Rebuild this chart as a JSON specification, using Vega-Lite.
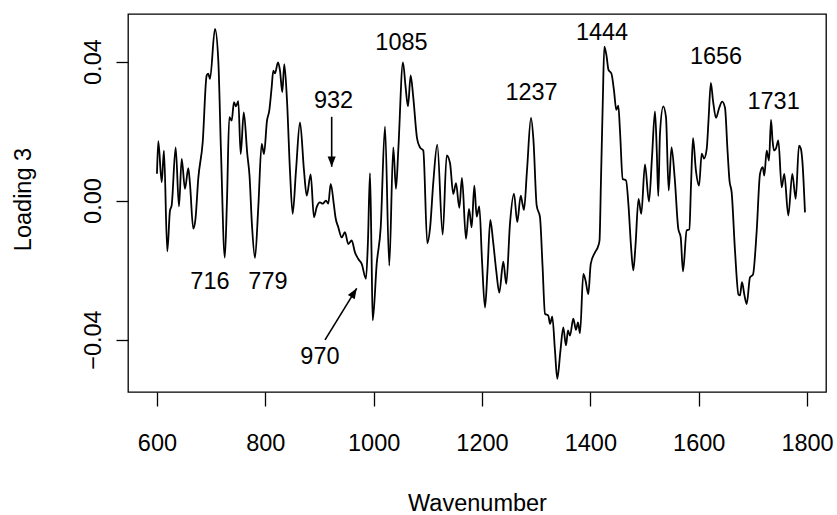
{
  "$schema": "https://vega.github.io/schema/vega-lite/v6.json",
  "autosize": {"type": "none"},
  "width": 698,
  "height": 378,
  "padding": {"left": 128, "top": 14, "right": 11, "bottom": 123},
  "background": "white",
  "config": {
    "font": "Liberation Sans",
    "view": {"stroke": "black", "strokeWidth": 1.3}
  },
  "datasets": {
    "spec": [
      {"w":600,"v":0.0077},{"w":602.4,"v":0.0171},{"w":608.7,"v":0.0053},{"w":612.9,"v":0.0144},{"w":619,"v":-0.0146},{"w":624,"v":-0.0029},{"w":627.1,"v":-0.0014},{"w":634.5,"v":0.0153},{"w":640.6,"v":-0.0017},{"w":645.6,"v":0.012},{"w":651.7,"v":0.0034},{"w":657.8,"v":0.0093},{"w":660.9,"v":0.0048},{"w":667,"v":-0.0081},{"w":671.1,"v":-0.0052},{"w":676.2,"v":0.0063},{"w":684.4,"v":0.0168},{"w":691.7,"v":0.036},{"w":694.7,"v":0.0365},{"w":697.8,"v":0.035},{"w":707.1,"v":0.0494},{"w":713.2,"v":0.0403},{"w":718.1,"v":0.0144},{"w":725.2,"v":-0.0164},{"w":729.2,"v":0.0},{"w":733.5,"v":0.024},{"w":737.9,"v":0.023},{"w":742.1,"v":0.0283},{"w":745.8,"v":0.0271},{"w":750.1,"v":0.0286},{"w":754.5,"v":0.0134},{"w":760.2,"v":0.0254},{"w":766.7,"v":0.0134},{"w":770.8,"v":0.0072},{"w":775.4,"v":-0.0072},{"w":780.9,"v":-0.0165},{"w":787,"v":-0.0019},{"w":793.3,"v":0.0163},{"w":797.5,"v":0.0134},{"w":803.1,"v":0.023},{"w":807.3,"v":0.0259},{"w":811.7,"v":0.0326},{"w":814.7,"v":0.0374},{"w":817.8,"v":0.0366},{"w":823.4,"v":0.0398},{"w":827.1,"v":0.0374},{"w":831.3,"v":0.0312},{"w":835,"v":0.0393},{"w":840,"v":0.0288},{"w":845.5,"v":0.0086},{"w":850.5,"v":-0.0038},{"w":856.6,"v":0.0086},{"w":864,"v":0.0225},{"w":871.4,"v":0.0086},{"w":876.4,"v":0.0014},{"w":883.7,"v":0.0075},{"w":889.8,"v":-0.0048},{"w":894.8,"v":-0.0019},{"w":900.9,"v":-0.0005},{"w":905.9,"v":-0.0009},{"w":912,"v":0.0},{"w":916.2,"v":-0.0009},{"w":920.7,"v":0.0048},{"w":926.7,"v":-0.0014},{"w":929.5,"v":-0.0048},{"w":934.7,"v":-0.0077},{"w":941,"v":-0.0106},{"w":947,"v":-0.0091},{"w":953.1,"v":-0.0125},{"w":959.4,"v":-0.0115},{"w":965.5,"v":-0.0149},{"w":971.6,"v":-0.0168},{"w":977.9,"v":-0.0182},{"w":985.8,"v":-0.0225},{"w":989.5,"v":-0.0115},{"w":993.2,"v":0.0079},{"w":996,"v":-0.0144},{"w":998.2,"v":-0.0345},{"w":1005.6,"v":-0.0182},{"w":1013,"v":-0.0077},{"w":1020.9,"v":0.0213},{"w":1028.8,"v":-0.0187},{"w":1036.2,"v":0.0153},{"w":1041.2,"v":0.0034},{"w":1045.4,"v":0.0144},{"w":1054.1,"v":0.0398},{"w":1058.7,"v":0.0331},{"w":1063.3,"v":0.0271},{"w":1068.3,"v":0.036},{"w":1073.1,"v":0.0297},{"w":1080,"v":0.018},{"w":1085.5,"v":0.0153},{"w":1091.6,"v":0.0144},{"w":1099,"v":-0.0123},{"w":1104,"v":-0.0081},{"w":1110.1,"v":0.0053},{"w":1117.4,"v":0.0161},{"w":1127.4,"v":-0.0098},{"w":1134.8,"v":0.013},{"w":1140.9,"v":0.0108},{"w":1147,"v":0.0019},{"w":1152,"v":0.005},{"w":1158.1,"v":-0.0021},{"w":1163,"v":0.0065},{"w":1170.4,"v":-0.011},{"w":1176,"v":-0.0024},{"w":1180.9,"v":-0.0077},{"w":1185.8,"v":0.0043},{"w":1190.2,"v":-0.0046},{"w":1195,"v":-0.0017},{"w":1200,"v":-0.0173},{"w":1205.5,"v":-0.0308},{"w":1210.1,"v":-0.0201},{"w":1215.3,"v":-0.0056},{"w":1220.3,"v":-0.0115},{"w":1226.4,"v":-0.0204},{"w":1231.9,"v":-0.0265},{"w":1239.3,"v":-0.0176},{"w":1244.8,"v":-0.024},{"w":1251.6,"v":-0.0067},{"w":1259,"v":0.002},{"w":1265.1,"v":-0.0062},{"w":1271.4,"v":0.0014},{"w":1274.7,"v":-0.0009},{"w":1277.5,"v":-0.0027},{"w":1283,"v":0.0086},{"w":1290.4,"v":0.0238},{"w":1295,"v":0.0173},{"w":1300.9,"v":-0.0014},{"w":1307,"v":-0.0048},{"w":1311.7,"v":-0.0187},{"w":1316.3,"v":-0.0326},{"w":1322.4,"v":-0.0331},{"w":1325.5,"v":-0.0355},{"w":1329.7,"v":-0.0334},{"w":1334.7,"v":-0.0432},{"w":1338.9,"v":-0.0513},{"w":1344.8,"v":-0.0432},{"w":1350,"v":-0.0365},{"w":1355,"v":-0.0417},{"w":1358.7,"v":-0.0374},{"w":1362.4,"v":-0.0389},{"w":1368.5,"v":-0.034},{"w":1373.5,"v":-0.0372},{"w":1377.2,"v":-0.0351},{"w":1380.9,"v":-0.0382},{"w":1387,"v":-0.0211},{"w":1391.1,"v":-0.023},{"w":1396.2,"v":-0.0269},{"w":1400.7,"v":-0.0182},{"w":1408.6,"v":-0.0149},{"w":1414.7,"v":-0.013},{"w":1416.9,"v":-0.0115},{"w":1419.6,"v":0.0058},{"w":1423,"v":0.0288},{"w":1425.8,"v":0.0443},{"w":1429.8,"v":0.0417},{"w":1433.5,"v":0.0376},{"w":1439,"v":0.0365},{"w":1443.6,"v":0.0317},{"w":1447.9,"v":0.0261},{"w":1451.6,"v":0.0273},{"w":1454.7,"v":0.0201},{"w":1459.7,"v":0.0062},{"w":1465.8,"v":0.0058},{"w":1470.4,"v":-0.0014},{"w":1475,"v":-0.013},{"w":1479.3,"v":-0.0201},{"w":1483.3,"v":-0.013},{"w":1488.9,"v":0.0005},{"w":1494,"v":-0.0038},{"w":1500.8,"v":0.0104},{"w":1508.2,"v":-0.0003},{"w":1513.8,"v":0.0125},{"w":1519.3,"v":0.0257},{"w":1522.6,"v":0.0144},{"w":1525.4,"v":0.0013},{"w":1528.5,"v":0.0192},{"w":1534.6,"v":0.0271},{"w":1539.6,"v":0.024},{"w":1544.6,"v":0.0029},{"w":1549.8,"v":0.0153},{"w":1555.7,"v":0.0065},{"w":1562.3,"v":-0.0081},{"w":1566.8,"v":-0.0106},{"w":1571,"v":-0.0204},{"w":1577.8,"v":-0.0086},{"w":1582.7,"v":-0.0083},{"w":1585.8,"v":0.0043},{"w":1589.5,"v":0.018},{"w":1594.7,"v":0.0089},{"w":1600.6,"v":0.0043},{"w":1605.6,"v":0.0135},{"w":1609.8,"v":0.0121},{"w":1614.8,"v":0.0149},{"w":1618.1,"v":0.023},{"w":1622.4,"v":0.0339},{"w":1626.4,"v":0.0288},{"w":1632,"v":0.0238},{"w":1637.5,"v":0.0265},{"w":1643.4,"v":0.0285},{"w":1648.5,"v":0.0268},{"w":1653.2,"v":0.0144},{"w":1656.8,"v":0.0058},{"w":1660.9,"v":0.0023},{"w":1667,"v":-0.0144},{"w":1673.5,"v":-0.0271},{"w":1676.2,"v":-0.0273},{"w":1679.9,"v":-0.0235},{"w":1684.5,"v":-0.0273},{"w":1688.6,"v":-0.0298},{"w":1694.7,"v":-0.0221},{"w":1700.2,"v":-0.0213},{"w":1707,"v":-0.0089},{"w":1713.2,"v":0.0077},{"w":1718.2,"v":0.0096},{"w":1721.1,"v":0.0072},{"w":1725.5,"v":0.0144},{"w":1729.8,"v":0.0115},{"w":1733.5,"v":0.0232},{"w":1736.3,"v":0.0173},{"w":1739,"v":0.0144},{"w":1742.7,"v":0.015},{"w":1747,"v":0.0173},{"w":1753.2,"v":0.0038},{"w":1758,"v":0.0077},{"w":1765.4,"v":-0.0043},{"w":1772.8,"v":0.0077},{"w":1779.1,"v":0.0005},{"w":1785.1,"v":0.0158},{"w":1788.5,"v":0.015},{"w":1791.3,"v":0.0115},{"w":1796.2,"v":-0.0034}
    ],
    "labels": [
      {"w":697.8,"v":-0.02345,"t":"716"},
      {"w":804.9,"v":-0.02345,"t":"779"},
      {"w":925.9,"v":0.02863,"t":"932"},
      {"w":1051.4,"v":0.04524,"t":"1085"},
      {"w":1291.4,"v":0.03108,"t":"1237"},
      {"w":1421.6,"v":0.0482,"t":"1444"},
      {"w":1632.0,"v":0.0413,"t":"1656"},
      {"w":1738.2,"v":0.02835,"t":"1731"},
      {"w":900.9,"v":-0.04504,"t":"970"}
    ],
    "arrows": [
      {"w":922.5,"v":0.0241,"w2":922.5,"v2":0.00973},
      {"w":910.2,"v":-0.0401,"w2":968.7,"v2":-0.02527}
    ],
    "heads": [
      {"w":922.5,"v":0.00973,"a":180},
      {"w":968.7,"v":-0.02527,"a":31.5}
    ]
  },
  "encoding": {
    "x": {
      "field": "w", "type": "quantitative",
      "scale": {"domain": [546.5, 1835], "nice": false, "zero": false},
      "axis": {
        "values": [600, 800, 1000, 1200, 1400, 1600, 1800],
        "format": "d",
        "domain": false, "grid": false,
        "tickSize": 14, "tickColor": "black", "tickWidth": 1.3,
        "labelFontSize": 23.5, "labelColor": "black",
        "labelBaseline": "alphabetic", "labelPadding": 44,
        "labelFlush": false, "labelOverlap": false,
        "title": "Wavenumber", "titleFontSize": 23.5, "titleFontWeight": "normal",
        "titleColor": "black", "titleBaseline": "alphabetic", "titleAlign": "center",
        "titleX": 349, "titleY": 118
      }
    },
    "y": {
      "field": "v", "type": "quantitative",
      "scale": {"domain": [-0.0551, 0.0537], "nice": false, "zero": false},
      "axis": {
        "values": [-0.04, 0, 0.04],
        "format": ".2f",
        "domain": false, "grid": false,
        "tickSize": 12, "tickColor": "black", "tickWidth": 1.3,
        "labelFontSize": 23.5, "labelColor": "black",
        "labelAngle": -90, "labelAlign": "center", "labelBaseline": "alphabetic",
        "labelPadding": 16, "labelFlush": false, "labelOverlap": false,
        "title": "Loading 3", "titleFontSize": 23.5, "titleFontWeight": "normal",
        "titleColor": "black", "titleAngle": -90, "titleBaseline": "alphabetic",
        "titleAlign": "center", "titleX": -98, "titleY": 185
      }
    }
  },
  "layer": [
    {
      "data": {"name": "spec"},
      "mark": {"type": "line", "color": "black", "strokeWidth": 1.8, "interpolate": "monotone"}
    },
    {
      "data": {"name": "arrows"},
      "mark": {"type": "rule", "color": "black", "strokeWidth": 1.6},
      "encoding": {
        "x2": {"field": "w2"},
        "y2": {"field": "v2"}
      }
    },
    {
      "data": {"name": "heads"},
      "mark": {"type": "point", "shape": "M0,0L0.45,1.15L-0.45,1.15Z", "filled": true, "fill": "black", "strokeWidth": 0, "size": 324, "opacity": 1},
      "encoding": {
        "angle": {"field": "a", "type": "quantitative", "scale": null}
      }
    },
    {
      "data": {"name": "labels"},
      "mark": {"type": "text", "fontSize": 23.5, "color": "black", "align": "center", "baseline": "middle"},
      "encoding": {
        "text": {"field": "t", "type": "nominal"}
      }
    }
  ]
}
